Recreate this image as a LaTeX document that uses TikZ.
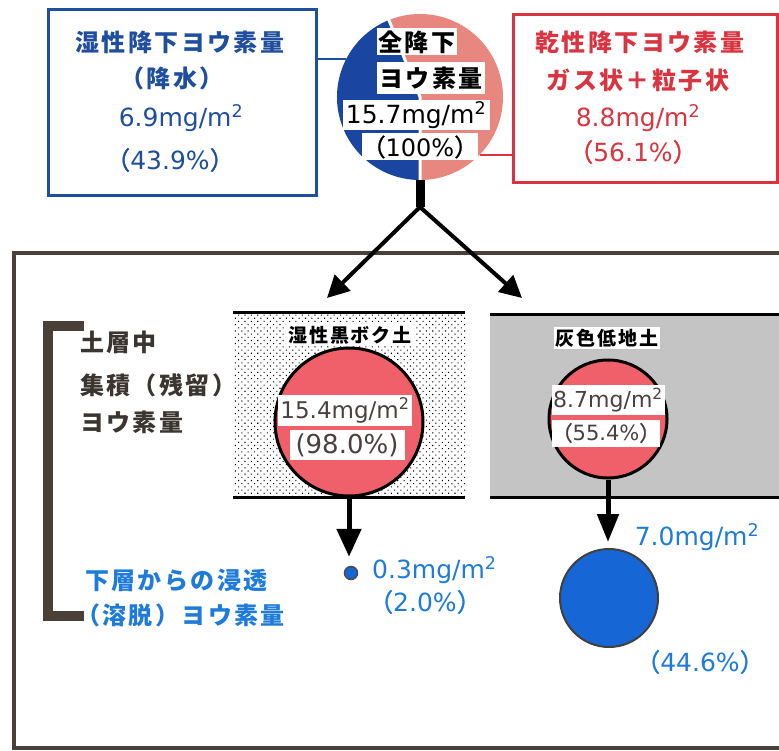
\documentclass[tikz,border=0pt]{standalone}
\usepackage{fontspec}
\setmainfont{Noto Sans CJK JP}[LetterSpace=10]
\newfontfamily\jpf{Noto Sans CJK JP}[FakeBold=1.2]
\newfontfamily\lat{DejaVu Sans}
\newcommand\Lp{{\jpf （}}
\newcommand\Rp{{\jpf ）}}
\usetikzlibrary{arrows.meta,patterns.meta}
\definecolor{wetblue}{HTML}{1F4E9E}
\definecolor{wetfill}{HTML}{1A45A0}
\definecolor{dryred}{HTML}{D9343F}
\definecolor{salmon}{HTML}{E8877F}
\definecolor{soilred}{HTML}{F0606A}
\definecolor{leachblue}{HTML}{1E7BDA}
\definecolor{dotblue}{HTML}{1766D6}
\definecolor{framec}{HTML}{4A4038}
\definecolor{inkc}{HTML}{3A3530}
\definecolor{soilink}{HTML}{4A4040}
\tikzset{
  t24b/.style={inner sep=0pt, font=\fontsize{24}{28}\selectfont\bfseries},
  num/.style={inner sep=0pt, font=\lat\fontsize{#1}{#1}\selectfont},
  wband/.style={fill=white, inner sep=0pt, minimum height=#1},
  lbl/.style={fill=white, inner sep=2pt, font=\fontsize{19}{22}\selectfont\bfseries},
  soilline/.style={line width=3pt},
  bigarrow/.style={line width=5pt, -{Triangle[length=28pt,width=24pt]}},
  toparrow/.style={line width=4pt, -{Triangle[length=22pt,width=22pt]}},
}
\begin{document}
\begin{tikzpicture}[x=1pt,y=-1pt]
\useasboundingbox (0,0) rectangle (779,751);
\fill[white] (0,0) rectangle (779,751);

% outer frame
\draw[framec, line width=4pt] (14,253) rectangle (795,748);

% top boxes
\node[draw=wetblue, line width=3pt, minimum width=268pt, minimum height=186pt, inner sep=0pt] (wet) at (182,103) {};
\node[draw=dryred, line width=3pt, minimum width=264pt, minimum height=168pt, inner sep=0pt] (dry) at (645,99) {};

\node[t24b, text=wetblue] (w1) at (180,42) {湿性降下ヨウ素量};
\node[t24b, text=wetblue] (w2) at (172,78) {（降水）};
\node[num=25, text=wetblue] (w3) at (181,118) {6.9mg/m\textsuperscript{2}};
\node[num=25, text=wetblue] (w4) at (170,160) {\Lp 43.9\%\Rp};

\node[t24b, text=dryred] (d1) at (640,42) {乾性降下ヨウ素量};
\node[t24b, text=dryred] (d2) at (638,80) {ガス状＋粒子状};
\node[num=25, text=dryred] (d3) at (638,118) {8.8mg/m\textsuperscript{2}};
\node[num=25, text=dryred] (d4) at (633,152) {\Lp 56.1\%\Rp};

% total pie
\node[circle, minimum size=166pt, inner sep=0pt] (tot) at (420,97) {};
\begin{scope}[shift={(420,97)}, yscale=-1]
  \fill[wetfill] (0,0) -- (112:83) arc[start angle=112, end angle=270, radius=83] -- cycle;
  \fill[salmon] (0,0) -- (-90:83) arc[start angle=-90, end angle=112, radius=83] -- cycle;
  \draw[white, line width=3pt] (0,0) -- (112:85) (0,0) -- (270:85);
\end{scope}
\node[wband=27pt, minimum width=80pt, t24b] (p1) at (417,42) {全降下};
\node[wband=32pt, minimum width=108pt, t24b] (p2) at (431,78) {ヨウ素量};
\node[wband=30pt, minimum width=147pt, num=25] (p3) at (416,115) {15.7mg/m\textsuperscript{2}};
\node[wband=27pt, minimum width=95pt, num=24] (p4) at (420,147) {\Lp 100\%\Rp};

\draw[wetblue, line width=2pt] (tot.153.5) -- (tot.153.5 -| wet.east);
\draw[dryred, line width=2pt] (tot.-44.3) -- (tot.-44.3 -| dry.west);

% split arrows
\coordinate (jn) at (420,207);
\coordinate (ta) at (327,298);
\coordinate (tb) at (522,298);
\draw[line width=9pt] (tot.south) -- (jn);
\draw[toparrow] (jn) -- (ta);
\draw[toparrow] (jn) -- (tb);

% soil boxes
\fill[pattern={Dots[distance=4.5pt, radius=0.75pt, angle=45]}, pattern color=black] (233,313) rectangle (465,497);
\draw[soilline] (233,313) -- (465,313) (233,497) -- (465,497);
\fill[black!22] (490,315) rectangle (790,497);
\fill[pattern={Dots[distance=2pt, radius=0.45pt]}, pattern color=black!35] (490,315) rectangle (790,497);
\draw[soilline] (490,315) -- (790,315) (490,497) -- (790,497);

\node[lbl] (s1) at (350,335) {湿性黒ボク土};
\node[lbl] (s2) at (607,338) {灰色低地土};

\node[circle, draw=black, line width=3pt, fill=soilred, minimum size=148pt, inner sep=0pt] (sc1) at (349,422) {};
\node[wband=31pt, minimum width=134pt, num=23, text=soilink] (sc1a) at (345,410) {15.4mg/m\textsuperscript{2}};
\node[wband=30pt, minimum width=115pt, num=26, text=soilink] (sc1b) at (347,445) {(98.0\%)};

\node[circle, draw=black, line width=3pt, fill=soilred, minimum size=118pt, inner sep=0pt] (sc2) at (608,419) {};
\node[wband=30pt, minimum width=113pt, num=22, text=soilink] (sc2a) at (608,400) {8.7mg/m\textsuperscript{2}};
\node[wband=27pt, minimum width=93pt, num=21, text=soilink] (sc2b) at (606,433) {\Lp 55.4\%\Rp};

% leaching
\node[circle, draw=black!70, line width=1.5pt, fill=dotblue, minimum size=13pt, inner sep=0pt] (dot1) at (351,573) {};
\node[circle, draw=black!75, line width=2pt, fill=dotblue, minimum size=98pt, inner sep=0pt] (dot2) at (609,598) {};
\draw[bigarrow, shorten >=9pt] (sc1.south) -- (sc1.south |- dot1.north);
\draw[bigarrow, shorten >=6pt, -{Triangle[length=28pt,width=21pt]}] (sc2.south) -- (sc2.south |- dot2.north);

\node[num=25, text=leachblue, anchor=west] (l1) at (372,570) {0.3mg/m\textsuperscript{2}};
\node[num=25, text=leachblue] (l2) at (425,602) {\Lp 2.0\%\Rp};
\node[num=25, text=leachblue] (r1) at (697,537) {7.0mg/m\textsuperscript{2}};
\node[num=25, text=leachblue] (r2) at (700,662) {\Lp 44.6\%\Rp};

% bracket and side labels
\draw[framec, line width=10pt] (84,326) -- (48,326) -- (48,616) -- (84,616);
\node[t24b, text=inkc, anchor=west] (k1) at (80,342) {土層中};
\node[t24b, text=inkc, anchor=west] (k2) at (80,385) {集積（残留）};
\node[t24b, text=inkc, anchor=west] (k3) at (80,422) {ヨウ素量};
\node[t24b, text=leachblue, anchor=west] (b1) at (85,580) {下層からの浸透};
\node[t24b, text=leachblue, anchor=west] (b2) at (76,615) {（溶脱）ヨウ素量};
\end{tikzpicture}
\end{document}
